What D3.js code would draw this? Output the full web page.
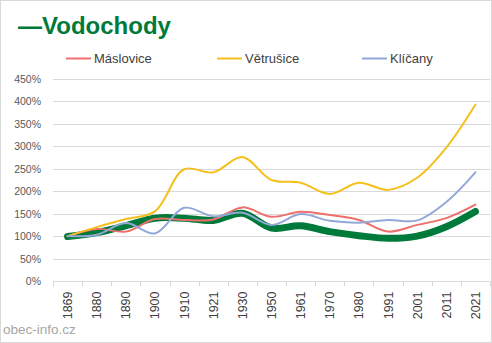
<!DOCTYPE html>
<html>
<head>
<meta charset="utf-8">
<script src="https://cdn.jsdelivr.net/npm/d3@7"></script>
<style>
  html, body { margin: 0; padding: 0; background: #fff; }
  svg { display: block; font-family: "Liberation Sans", Arial, sans-serif; }
</style>
</head>
<body>
<svg id="chart" width="492" height="343"></svg>
<script>
// Population index of Vodochody and neighbouring villages (1869 = 100 %)
const years = ["1869","1880","1890","1900","1910","1921","1930","1950","1961","1970","1980","1991","2001","2011","2021"];
const vodochody = [99, 108, 123, 140, 140, 135, 151, 118, 123, 110, 101, 95, 100, 121, 155];
const maslovice = [100, 116, 110, 138, 136, 137, 164, 143, 154, 147, 136, 110, 125, 140, 170];
const vetrusice = [100, 120, 138, 155, 249, 242, 276, 225, 219, 194, 219, 203, 230, 297, 393];
const klicany   = [100, 103, 129, 106, 163, 144, 152, 125, 149, 134, 130, 136, 135, 176, 242];
const yTicks = [0, 50, 100, 150, 200, 250, 300, 350, 400, 450];

const series = [
  { name: "Máslovice", values: maslovice, color: "#EE6F6C", width: 2 },
  { name: "Větrušice", values: vetrusice, color: "#F5C01C", width: 2 },
  { name: "Klíčany",   values: klicany,   color: "#92A9D8", width: 2 },
];

const svg = d3.select("#chart");
const W = 492, H = 343;
const plot = { left: 53, right: 490, top: 79, bottom: 281 };

// outer frame
svg.append("rect").attr("x", 0.5).attr("y", 0.5).attr("width", W - 1).attr("height", H - 1)
  .attr("fill", "#fff").attr("stroke", "#D9D9D9");

const x = d3.scaleBand().domain(years).range([plot.left, plot.right]);
const y = d3.scaleLinear().domain([0, 450]).range([plot.bottom, plot.top]);

// horizontal gridlines
svg.append("g").selectAll("line").data(yTicks.filter(d => d > 0)).join("line")
  .attr("x1", plot.left).attr("x2", plot.right)
  .attr("y1", d => Math.round(y(d)) + 0.5).attr("y2", d => Math.round(y(d)) + 0.5)
  .attr("stroke", "#D9D9D9").attr("stroke-width", 1);

// y axis labels
svg.append("g").selectAll("text").data(yTicks).join("text")
  .attr("x", 41).attr("y", d => y(d) + 4)
  .attr("text-anchor", "end").attr("fill", "#595959").attr("font-size", 10.5)
  .text(d => d + "%");

// x axis with tick marks between categories
const xAxis = svg.append("g").attr("transform", `translate(0,${Math.round(plot.bottom) + 0.5})`);
xAxis.append("line").attr("x1", plot.left).attr("x2", plot.right).attr("stroke", "#D9D9D9");
const bounds = years.map(d => x(d)).concat([plot.right]);
xAxis.selectAll("line.tick").data(bounds).join("line").attr("class", "tick")
  .attr("x1", d => Math.round(d) + 0.5).attr("x2", d => Math.round(d) + 0.5)
  .attr("y1", 0).attr("y2", 5).attr("stroke", "#D9D9D9");
xAxis.selectAll("text").data(years).join("text")
  .attr("transform", d => `translate(${x(d) + x.bandwidth() / 2 + 4.5},${10}) rotate(-90)`)
  .attr("text-anchor", "end").attr("fill", "#404040").attr("font-size", 12.5)
  .text(d => d);

// smoothed lines
const line = d3.line()
  .x((d, i) => x(years[i]) + x.bandwidth() / 2)
  .y(d => y(d))
  .curve(d3.curveCatmullRom.alpha(0.5));

svg.append("path").datum(vodochody)
  .attr("d", line).attr("fill", "none")
  .attr("stroke", "#007A3A").attr("stroke-width", 7)
  .attr("stroke-linecap", "round").attr("stroke-linejoin", "round");

svg.append("g").selectAll("path").data(series).join("path")
  .attr("d", s => line(s.values)).attr("fill", "none")
  .attr("stroke", s => s.color).attr("stroke-width", s => s.width)
  .attr("stroke-linecap", "round").attr("stroke-linejoin", "round");

// title
svg.append("text").attr("x", 18).attr("y", 34)
  .attr("fill", "#007A3A").attr("font-size", 24).attr("font-weight", "bold")
  .text("—Vodochody");

// legend
const legendX = [66, 217, 362];
const lg = svg.append("g").selectAll("g").data(series).join("g")
  .attr("transform", (s, i) => `translate(${legendX[i]},58)`);
lg.append("line").attr("x1", 0).attr("x2", 25).attr("y1", 0.5).attr("y2", 0.5)
  .attr("stroke", s => s.color).attr("stroke-width", 2);
lg.append("text").attr("x", 28).attr("y", 5).attr("fill", "#404040").attr("font-size", 13)
  .text(s => s.name);

// source note
svg.append("text").attr("x", 3).attr("y", 334).attr("fill", "#A6A6A6").attr("font-size", 13.5)
  .text("obec-info.cz");
</script>
</body>
</html>
